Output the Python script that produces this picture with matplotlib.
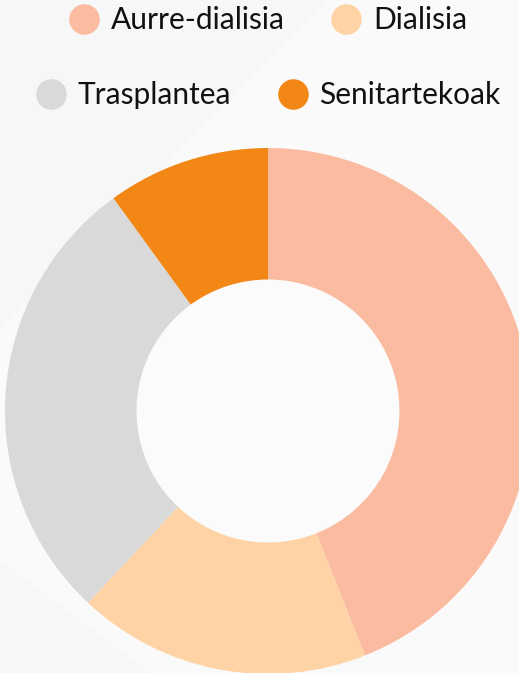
import matplotlib
matplotlib.use("Agg")
import matplotlib.pyplot as plt
from matplotlib.lines import Line2D
from matplotlib.patches import Polygon

labels = ["Aurre-dialisia", "Dialisia", "Trasplantea", "Senitartekoak"]
values = [44, 18, 28, 10]
colors = ["#FABBA0", "#FFD3A5", "#D9D9D9", "#F38716"]

W, H = 519, 673
fig = plt.figure(figsize=(W / 100, H / 100), dpi=100)
fig.patch.set_facecolor("#F7F7F7")

# faint lighter diagonal band in the background
bg = fig.add_axes([0, 0, 1, 1], zorder=0)
bg.set_xlim(0, W)
bg.set_ylim(H, 0)
bg.axis("off")
bg.add_patch(Polygon([(0, 330), (330, 0), (519, 0), (519, 673), (150, 673), (0, 560)],
                     closed=True, fc="#FAFAFA", ec="none"))

# donut
cx, cy, r = 268, 411, 263
ax = fig.add_axes([(cx - r) / W, (H - cy - r) / H, 2 * r / W, 2 * r / H], zorder=1)
ax.pie(values, colors=colors, startangle=90, counterclock=False, radius=1,
       wedgeprops=dict(width=0.5, edgecolor="none", linewidth=0))
ax.add_patch(plt.Circle((0, 0), 0.5, fc="#FBFBFB", ec="none", zorder=0))
ax.set_xlim(-1, 1)
ax.set_ylim(-1, 1)
ax.axis("off")


def handle(c):
    return Line2D([], [], marker="o", ls="none", markersize=22,
                  markerfacecolor=c, markeredgecolor="none")


font = dict(family=["Lato", "DejaVu Sans"], size=21.5)
kw = dict(ncol=2, loc="center", frameon=False, prop=font, handletextpad=0.4,
          columnspacing=1.55, handlelength=1.0)
leg1 = fig.legend([handle(colors[0]), handle(colors[1])], labels[:2],
                  bbox_to_anchor=(0.517, 1 - 20 / H), **kw)
leg2 = fig.legend([handle(colors[2]), handle(colors[3])], labels[2:],
                  bbox_to_anchor=(0.517, 1 - 95 / H), **kw)
for leg in (leg1, leg2):
    for t in leg.get_texts():
        t.set_color("#111111")

fig.savefig("out.png", dpi=100, facecolor=fig.get_facecolor())
